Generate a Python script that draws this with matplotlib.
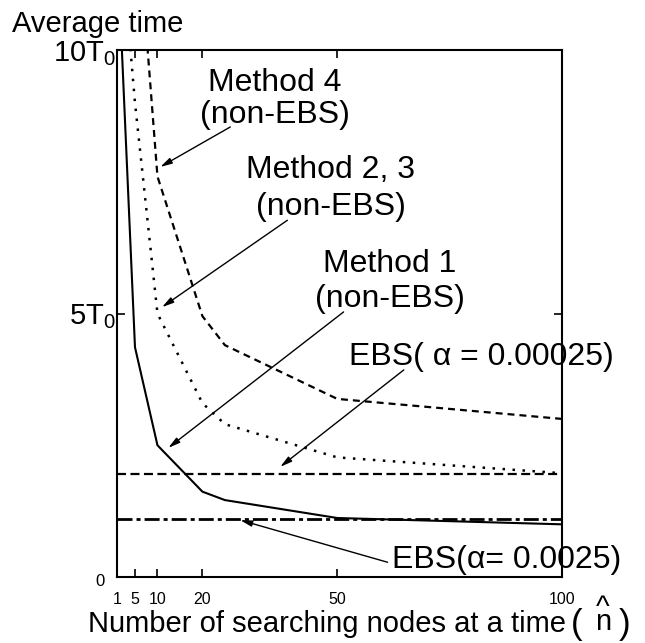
import matplotlib
matplotlib.use("Agg")
import matplotlib.pyplot as plt
from matplotlib.transforms import ScaledTranslation

plt.rcParams["font.family"] = ["Liberation Sans", "DejaVu Sans"]
plt.rcParams["mathtext.fontset"] = "custom"
plt.rcParams["mathtext.rm"] = "Liberation Sans"
plt.rcParams["mathtext.it"] = "Liberation Sans:italic"
plt.rcParams["lines.scale_dashes"] = False

# Average search time (in units of T0) against nodes searched at a time
n_nodes = [1, 5, 10, 20, 25, 50, 100]
method1 = [12.1, 4.36, 2.5, 1.62, 1.46, 1.12, 1.0]
method23 = [13.0, 9.0, 5.0, 3.3, 2.9, 2.27, 1.97]
method4 = [30.0, 13.1, 7.6, 4.95, 4.4, 3.38, 3.0]
ebs_00025 = 1.95
ebs_0025 = 1.1

x_ticks = [1, 5, 10, 20, 50, 100]
y_ticks = [0, 5, 10]
y_ticklabels = ["0", r"$\mathrm{5T}_0$", r"$\mathrm{10T}_0$"]

fig = plt.figure(figsize=(6.45, 6.43), dpi=100)
ax = fig.add_axes([0.1814, 0.1026, 0.690, 0.8196])

ax.plot(n_nodes, method1, color="black", lw=1.5)
ax.plot(n_nodes, method23, color="black", lw=1.8, linestyle=(0, (1.8, 5.4)))
ax.plot(n_nodes, method4, color="black", lw=1.6, linestyle=(0, (5.0, 3.6)))
ax.axhline(ebs_00025, color="black", lw=1.6, linestyle=(0, (6.5, 3.2)))
ax.axhline(ebs_0025, color="black", lw=2.0, linestyle=(0, (10.8, 2.9, 2.9, 2.9)))

ax.set_xlim(1, 100)
ax.set_ylim(0, 10)
for s in ax.spines.values():
    s.set_linewidth(1.5)

ax.set_xticks(x_ticks)
ax.set_xticklabels([str(v) for v in x_ticks])
ax.set_yticks(y_ticks)
ax.set_yticklabels(y_ticklabels)
ax.tick_params(direction="in", length=6, width=1.2, top=True, right=True)
ax.tick_params(axis="x", labelsize=11.5, pad=11)
ax.tick_params(axis="y", labelsize=21, pad=1)

ylabels = ax.get_yticklabels()
ylabels[0].set_fontsize(12)
ylabels[0].set_transform(ylabels[0].get_transform()
                         + ScaledTranslation(-11 / 100, -3 / 100, fig.dpi_scale_trans))

# labels for each curve
big = 23
ax.text(36.2, 8.48, "Method 4\n(non-EBS)", fontsize=big, ha="center",
        va="bottom", multialignment="center", linespacing=1.11)
ax.text(48.5, 6.74, "Method 2, 3\n(non-EBS)", fontsize=big, ha="center",
        va="bottom", multialignment="center", linespacing=1.28)
ax.text(61.65, 4.99, "Method 1\n(non-EBS)", fontsize=big, ha="center",
        va="bottom", multialignment="center", linespacing=1.24)
ax.text(52.5, 4.02, "EBS( α = 0.00025)", fontsize=big, va="baseline")
ax.text(62.1, 0.17, "EBS(α= 0.0025)", fontsize=big, va="baseline")

arrow = dict(arrowstyle="-|>,head_length=0.7,head_width=0.18",
             color="black", lw=1.0, shrinkA=0, shrinkB=0, mutation_scale=10)
ax.annotate("", xy=(10.6, 7.78), xytext=(26.2, 8.54), arrowprops=arrow)
ax.annotate("", xy=(11.0, 5.12), xytext=(38.9, 6.77), arrowprops=arrow)
ax.annotate("", xy=(12.4, 2.45), xytext=(51.4, 5.03), arrowprops=arrow)
ax.annotate("", xy=(37.3, 2.09), xytext=(64.8, 3.93), arrowprops=arrow)
ax.annotate("", xy=(28.4, 1.08), xytext=(61.2, 0.28), arrowprops=arrow)

fig.text(12 / 645, 1 - 32 / 643, "Average time", fontsize=21, va="baseline")

# x-axis label, with n-hat in tall parentheses
fig.text(88 / 645, 1 - 632 / 643, "Number of searching nodes at a time",
         fontsize=21, va="baseline")
fig.text(571 / 645, 1 - 634 / 643, "(", fontsize=25, va="baseline")
fig.text(603 / 645, 1 - 636 / 643, "^\nn", fontsize=21, ha="center",
         va="bottom", multialignment="center", linespacing=0.38)
fig.text(619 / 645, 1 - 634 / 643, ")", fontsize=25, va="baseline")

fig.savefig("out.png", dpi=100)
